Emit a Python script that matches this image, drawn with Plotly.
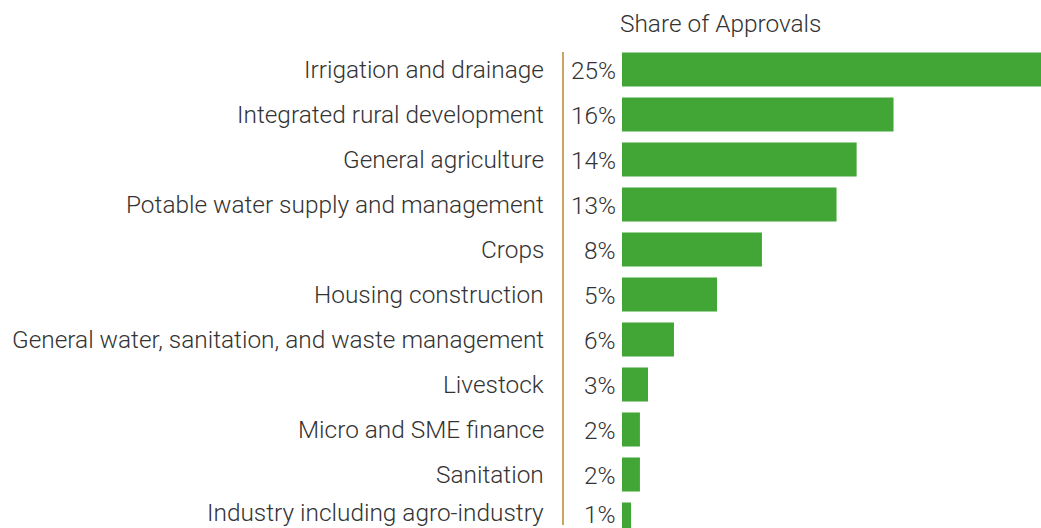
import plotly.graph_objects as go

categories = [
    "Irrigation and drainage",
    "Integrated rural development",
    "General agriculture",
    "Potable water supply and management",
    "Crops",
    "Housing construction",
    "General water, sanitation, and waste management",
    "Livestock",
    "Micro and SME finance",
    "Sanitation",
    "Industry including agro-industry",
]
share_labels = ["25%", "16%", "14%", "13%", "8%", "5%", "6%", "3%", "2%", "2%", "1%"]
bar_values = [25.0, 16.2, 14.0, 12.8, 8.35, 5.67, 3.1, 1.55, 1.07, 1.07, 0.54]

W, H = 1041, 528
ML, MT = 622, 47
plot_w = W - ML
plot_h = H - MT
unit = 45.0
span = plot_h / unit

FONT = "Roboto"
WEIGHT = 300
TXT = "#333333"
FS = 24.4

ypos = list(range(len(categories)))

fig = go.Figure()
fig.add_trace(go.Bar(
    x=bar_values, y=ypos, orientation="h",
    marker=dict(color="#41a636", line=dict(width=0)),
    width=0.756, hoverinfo="skip",
))

def f(size=FS):
    return dict(family=FONT, size=size, color=TXT, weight=WEIGHT)

annotations = []
n = len(categories)
for i, (c, s) in enumerate(zip(categories, share_labels)):
    last = i == n - 1
    annotations.append(dict(x=0, y=i, xref="x", yref="y", text=c, showarrow=False,
                            xanchor="right", yanchor="middle", xshift=-76,
                            yshift=7 if last else 0, font=f()))
    annotations.append(dict(x=0, y=i, xref="x", yref="y", text=s, showarrow=False,
                            xanchor="right", yanchor="middle", xshift=-4,
                            yshift=5 if last else -1, font=f()))
annotations.append(dict(x=0, y=(H - 24) / plot_h, xref="paper", yref="paper",
                        text="Share of Approvals", showarrow=False,
                        xanchor="left", yanchor="middle", xshift=-4, font=f()))

lx = (563 - ML) / plot_w
fig.update_layout(
    width=W, height=H,
    margin=dict(l=ML, r=0, t=MT, b=0, pad=0),
    paper_bgcolor="white", plot_bgcolor="white",
    showlegend=False,
    xaxis=dict(range=[0, 25], visible=False, fixedrange=True),
    yaxis=dict(range=[-0.5 + span, -0.5], visible=False, fixedrange=True),
    annotations=annotations,
    shapes=[dict(type="line", xref="paper", yref="paper",
                 x0=lx, x1=lx,
                 y0=(H - 525) / plot_h, y1=(H - 52) / plot_h,
                 line=dict(color="#b8862b", width=1.5))],
)

fig.write_html("out.html", config={"displayModeBar": False},
               post_script="document.body.style.margin='0px';document.body.style.overflow='hidden';")
